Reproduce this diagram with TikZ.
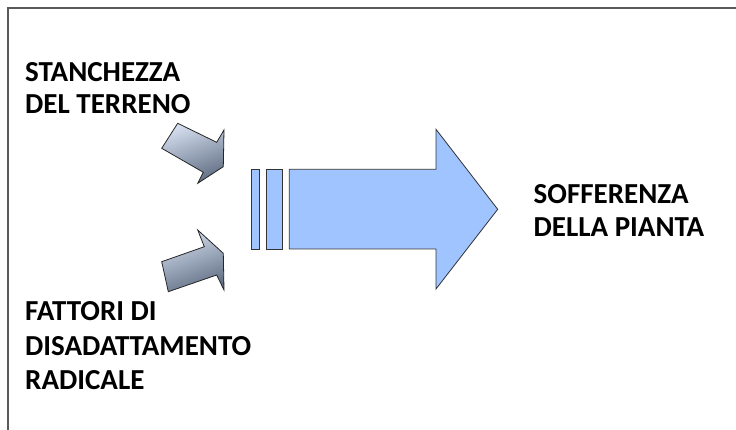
\documentclass[tikz,border=0pt]{standalone}
\usepackage{fontspec}
\setmainfont{Carlito}
\definecolor{bigblue}{RGB}{160,196,255}
\definecolor{framegray}{RGB}{90,90,90}
\definecolor{arrlight}{RGB}{212,222,238}
\definecolor{arrdark}{RGB}{96,110,132}
\begin{document}
\begin{tikzpicture}[x=1pt,y=-1pt,
  lbl/.style={anchor=base west,inner sep=0pt,font=\fontsize{29}{34}\selectfont\bfseries},
  bigarrow/.style={draw=black!80,line width=0.8pt,fill=bigblue,line join=miter},
  smallarrow/.style={draw=black!85,line width=0.8pt,line join=miter,top color=arrlight,bottom color=arrdark,shading angle=20}]
\useasboundingbox (0,0) rectangle (736,430);
\draw[framegray,line width=2pt] (7.5,431) -- (7.5,8.5) -- (737,8.5);
% big arrow
\draw[bigarrow] (289.3,169.3) -- (436,169.3) -- (436,129.3) -- (497.7,209.3) -- (436,289) -- (436,249) -- (289.3,249) -- cycle;
\draw[bigarrow] (251.7,169.3) rectangle (259.3,249);
\draw[bigarrow] (266,169.3) rectangle (282.3,249);
% small arrows
\draw[smallarrow] (177.7,123.3) -- (216.7,142.3) -- (224,130) -- (223.3,166.7) -- (197.7,183.3) -- (203.3,172.3) -- (161.7,148.3) -- cycle;
\draw[smallarrow] (161.7,261.7) -- (204.3,246.7) -- (197.7,230) -- (223.3,253.3) -- (224,290) -- (216.7,275) -- (168.3,291.7) -- cycle;
% labels
\node[lbl] (t1) at (25,82) {STANCHEZZA};
\node[lbl] (t2) at (25,114) {DEL TERRENO};
\node[lbl] (f1) at (25,320) {FATTORI DI};
\node[lbl] (f2) at (25,355) {DISADATTAMENTO};
\node[lbl] (f3) at (25,389) {RADICALE};
\node[lbl] (s1) at (533.5,203.3) {SOFFERENZA};
\node[lbl] (s2) at (533.5,236.7) {DELLA PIANTA};
\end{tikzpicture}
\end{document}
